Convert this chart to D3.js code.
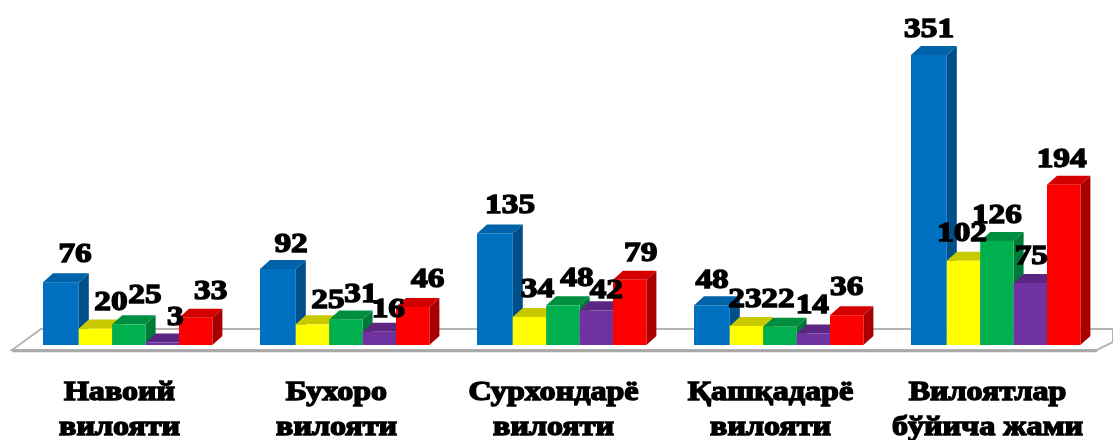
<!DOCTYPE html>
<html>
<head>
<meta charset="utf-8">
<script src="https://cdn.jsdelivr.net/npm/d3@7/dist/d3.min.js"></script>
<style>
html, body { margin: 0; padding: 0; background: #fff; overflow: hidden; }
text { font-family: "Liberation Serif", serif; font-weight: bold; fill: #000; stroke: #000; stroke-width: 1.4px; }
</style>
</head>
<body>
<div class="chart"></div>
<script>
//Data
var categories = [
    ["Навоий", "вилояти"],
    ["Бухоро", "вилояти"],
    ["Сурхондарё", "вилояти"],
    ["Қашқадарё", "вилояти"],
    ["Вилоятлар", "бўйича жами"]
];
var series1 = [76, 92, 135, 48, 351];
var series2 = [20, 25, 34, 23, 102];
var series3 = [25, 31, 48, 22, 126];
var series4 = [3, 16, 42, 14, 75];
var series5 = [33, 46, 79, 36, 194];
var allSeries = [series1, series2, series3, series4, series5];

//front, top, side colours per series
var fronts = ["#0070c0", "#ffff00", "#00b050", "#7030a0", "#ff0000"];
var tops = ["#0062a8", "#c9c900", "#008f41", "#5a2682", "#d40000"];
var sides = ["#004f88", "#a8a800", "#007a38", "#4a1f6c", "#a80000"];

//hand placed label shift, the original chart had them dragged around [series][category]
var labelNudge = [
    [[13, -2], [12, 1], [14, -2.5], [-1, 1], [-1, 0]],
    [[15.5, 0], [15.5, 2], [8, -2], [-1.5, -1], [-1.5, -2]],
    [[16, -3], [15, 1], [14, -1], [-2, -2], [0, 0]],
    [[13, 0], [9, 3], [10, 6], [-1, -2], [1, -1]],
    [[15, -1], [15, -2], [11, -1], [0, -2], [-2, 0]]
];

var width = 1113, height = 440;
var baseY = 345, depthX = 10, depthY = 9;
var textStretch = 1.19;

var svg = d3.select(".chart")
    .append("svg")
    .attr("width", width)
    .attr("height", height)
    .attr("viewBox", [0, 0, width, height]);

//soft blur, the reference is an upscaled picture
svg.append("defs").append("filter")
    .attr("id", "soft")
    .attr("filterUnits", "userSpaceOnUse")
    .attr("x", 0).attr("y", 0).attr("width", width).attr("height", height)
    .append("feGaussianBlur")
    .attr("stdDeviation", 0.7);

var g = svg.append("g").attr("filter", "url(#soft)");

var x0 = d3.scaleBand()
    .domain(d3.range(categories.length))
    .range([11, 1096]);

var x1 = d3.scaleBand()
    .domain(d3.range(allSeries.length))
    .range([34.4, 201.4]);

var y = d3.scaleLinear()
    .domain([0, 351])
    .range([baseY, 55]);

//floor
g.append("path")
    .attr("d", d3.line()([[12, 350], [41, 329], [1113, 329], [1113, 342], [1097, 350]]) + "Z")
    .attr("fill", "#fff")
    .attr("stroke", "#b4b4b4")
    .attr("stroke-width", 2);
g.append("path")
    .attr("d", d3.line()([[12, 351], [1097, 351]]))
    .attr("stroke", "#a9a9a9")
    .attr("stroke-width", 2.5);

//bars, category by category so neighbours overlap like the original
categories.forEach(function(c, ci) {
    var bars = g.append("g").attr("class", "group");
    allSeries.forEach(function(values, si) {
        var v = values[ci];
        var left = x0(ci) + x1(si) - (si == 0 ? 2.4 : 0);
        var right = x0(ci) + x1(si) + x1.bandwidth();
        var top = y(v);
        bars.append("path")
            .attr("fill", sides[si])
            .attr("d", d3.line()([[right, top], [right + depthX, top - depthY], [right + depthX, baseY - depthY], [right, baseY]]) + "Z");
        bars.append("path")
            .attr("fill", tops[si])
            .attr("d", d3.line()([[left, top], [left + depthX, top - depthY], [right + depthX, top - depthY], [right, top]]) + "Z");
        bars.append("rect")
            .attr("fill", fronts[si])
            .attr("x", left)
            .attr("y", top)
            .attr("width", right - left)
            .attr("height", baseY - top);
    });
});

//value labels last, they sit on top of the bars
allSeries.forEach(function(values, si) {
    g.selectAll(".val" + si)
        .data(values)
        .enter()
        .append("text")
        .attr("class", "val" + si)
        .attr("text-anchor", "middle")
        .attr("font-size", 28)
        .attr("transform", function(d, i) {
            var px = x0(i) + x1(si) + x1.bandwidth() / 2 + labelNudge[si][i][0];
            var py = y(d) - 18 + labelNudge[si][i][1];
            return "translate(" + px + "," + py + ") scale(" + textStretch + ",1)";
        })
        .text(function(d) { return d; });
});

//category labels, two lines
categories.forEach(function(lines, i) {
    lines.forEach(function(line, li) {
        g.append("text")
            .attr("text-anchor", "middle")
            .attr("font-size", 27)
            .attr("transform", "translate(" + (x0(i) + x0.bandwidth() / 2) + "," + (400 + li * 35) + ") scale(" + textStretch + ",1)")
            .text(line);
    });
});
</script>
</body>
</html>
